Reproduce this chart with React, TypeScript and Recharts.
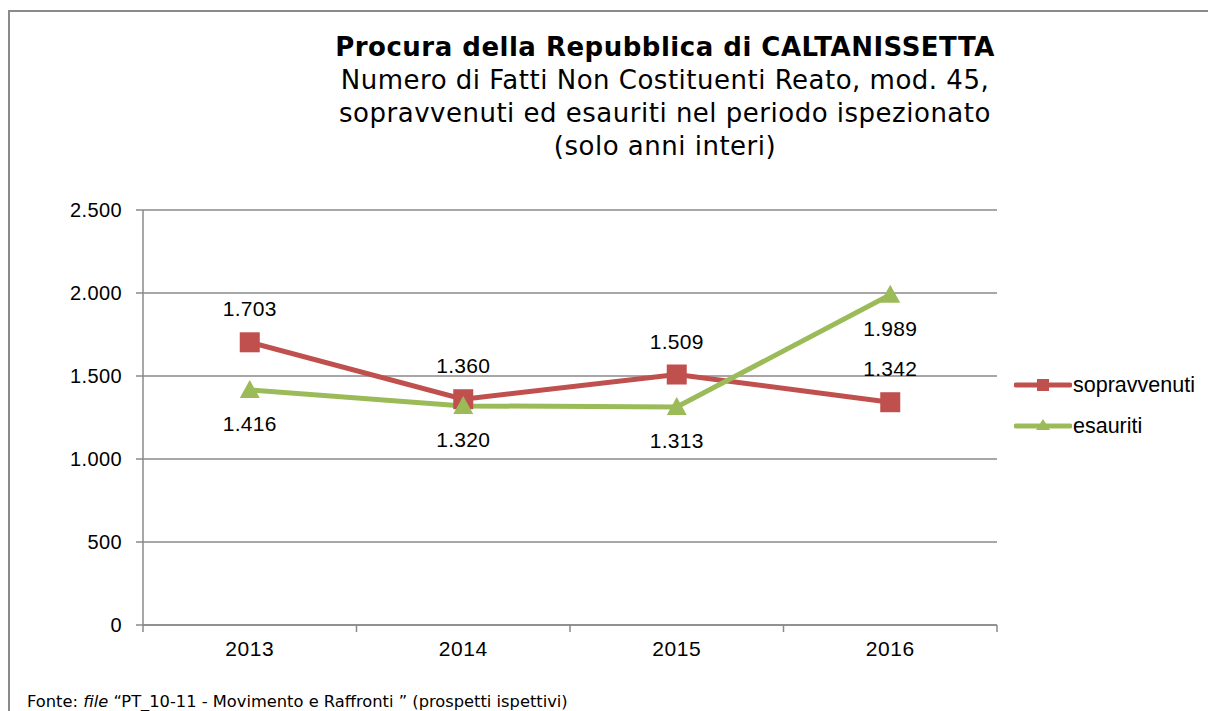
import React from "react";
import { CartesianGrid, LabelList, Line, LineChart, XAxis, YAxis } from "recharts";

const years = ["2013", "2014", "2015", "2016"];
const sopravvenuti = [1703, 1360, 1509, 1342];
const esauriti = [1416, 1320, 1313, 1989];
const yTicks = [0, 500, 1000, 1500, 2000, 2500];

const titleLines = [
  "Numero di Fatti Non Costituenti Reato, mod. 45,",
  "sopravvenuti ed esauriti nel periodo ispezionato",
  "(solo anni interi)",
];

const RED = "#C0504D";
const GREEN = "#9BBB59";
const GRID = "#8a8a8a";
const FONT = "'Liberation Sans', Arial, sans-serif";
const TITLE_FONT = "'DejaVu Sans', Verdana, sans-serif";

const chartData = years.map((anno, i) => ({
  anno,
  sopravvenuti: sopravvenuti[i],
  esauriti: esauriti[i],
}));

const fmt = (v: any) => String(v).replace(/\B(?=(\d{3})+(?!\d))/g, ".");

const SquareDot = (props: any) => {
  const { cx, cy } = props;
  if (cx == null || cy == null) return null;
  return <rect x={cx - 10} y={cy - 10} width={20} height={20} fill={RED} />;
};

const TriangleDot = (props: any) => {
  const { cx, cy } = props;
  if (cx == null || cy == null) return null;
  return <polygon points={`${cx},${cy - 10} ${cx + 10},${cy + 8} ${cx - 10},${cy + 8}`} fill={GREEN} />;
};

const XTick = (props: any) => {
  const { x, y, payload, index, width, visibleTicksCount } = props;
  const band = width / (visibleTicksCount || years.length);
  const top = y - 8;
  return (
    <g>
      <line x1={x - band / 2} y1={top} x2={x - band / 2} y2={top + 7} stroke={GRID} strokeWidth={1.5} />
      {index === years.length - 1 && (
        <line x1={x + band / 2} y1={top} x2={x + band / 2} y2={top + 7} stroke={GRID} strokeWidth={1.5} />
      )}
      <text x={x} y={top + 31} textAnchor="middle" fill="#000" fontSize={21} letterSpacing={0.6} fontFamily={FONT}>
        {payload.value}
      </text>
    </g>
  );
};

const legendItems = [
  { name: "sopravvenuti", color: RED, shape: "square" },
  { name: "esauriti", color: GREEN, shape: "triangle" },
];

export default function App() {
  return (
    <div style={{ position: "absolute", left: 0, top: 0, width: 1208, height: 711, overflow: "hidden", background: "#fff" }}>
      <div style={{ position: "absolute", left: 8, top: 10, width: 1300, height: 800, borderLeft: "2px solid #8a8a8a", borderTop: "2px solid #8a8a8a" }} />
      <div style={{ position: "absolute", left: 265, width: 800, top: 31, textAlign: "center", fontFamily: TITLE_FONT, fontSize: 26, letterSpacing: 0.5, lineHeight: "33px", color: "#000" }}>
        <div style={{ fontWeight: "bold" }}>Procura della Repubblica di CALTANISSETTA</div>
        {titleLines.map((t) => (
          <div key={t}>{t}</div>
        ))}
      </div>
      <LineChart width={1208} height={711} data={chartData} margin={{ top: 210, right: 211, bottom: 56, left: 0 }} style={{ position: "absolute", left: 0, top: 0 }}>
        <CartesianGrid vertical={false} stroke={GRID} strokeWidth={1.5} />
        <XAxis dataKey="anno" scale="band" height={30} axisLine={{ stroke: GRID, strokeWidth: 1.5 }} tickLine={false} tick={<XTick />} interval={0} />
        <YAxis
          width={143}
          domain={[0, 2500]}
          ticks={yTicks}
          tickFormatter={fmt}
          axisLine={{ stroke: GRID, strokeWidth: 1.5 }}
          tickLine={{ stroke: GRID, strokeWidth: 1.5 }}
          tickSize={7}
          tickMargin={14}
          tick={{ fill: "#000", fontSize: 20, letterSpacing: 0.4, fontFamily: FONT }}
        />
        <Line dataKey="sopravvenuti" stroke={RED} strokeWidth={5} dot={<SquareDot />} activeDot={false} isAnimationActive={false}>
          <LabelList dataKey="sopravvenuti" position="top" offset={26} formatter={fmt} fill="#000" fontSize={21} letterSpacing={0.3} fontFamily={FONT} />
        </Line>
        <Line dataKey="esauriti" stroke={GREEN} strokeWidth={5} dot={<TriangleDot />} activeDot={false} isAnimationActive={false}>
          <LabelList dataKey="esauriti" position="bottom" offset={26} formatter={fmt} fill="#000" fontSize={21} letterSpacing={0.3} fontFamily={FONT} />
        </Line>
      </LineChart>
      {legendItems.map((it, i) => (
        <div key={it.name} style={{ position: "absolute", left: 1014, top: 372 + i * 41, display: "flex", alignItems: "center", height: 26 }}>
          <svg width={58} height={20}>
            <line x1={2} y1={10} x2={56} y2={10} stroke={it.color} strokeWidth={5} strokeLinecap="round" />
            {it.shape === "square" ? (
              <rect x={23} y={4} width={12} height={12} fill={it.color} />
            ) : (
              <polygon points="29,3 36,14 22,14" fill={it.color} />
            )}
          </svg>
          <span style={{ fontFamily: FONT, fontSize: 21.5, color: "#000", marginLeft: 1 }}>{it.name}</span>
        </div>
      ))}
      <div style={{ position: "absolute", left: 27, top: 693, lineHeight: "17px", fontFamily: TITLE_FONT, fontSize: 16.3, color: "#000", whiteSpace: "nowrap" }}>
        Fonte: <i>file</i> “PT_10-11 - Movimento e Raffronti ” (prospetti ispettivi)
      </div>
    </div>
  );
}
